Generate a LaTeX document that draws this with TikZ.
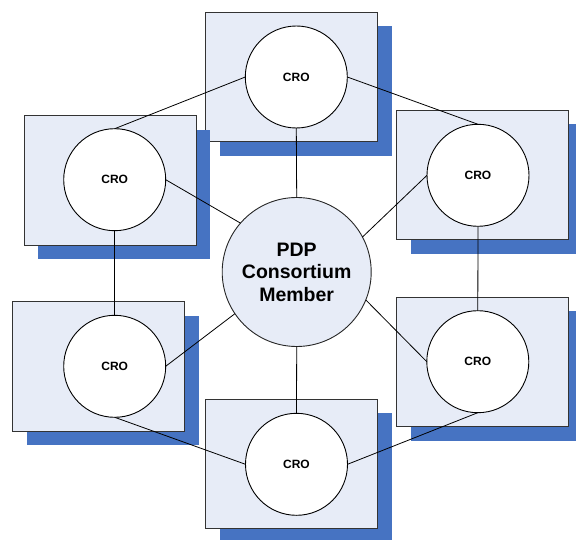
\documentclass[tikz,border=0pt]{standalone}
\usepackage{fontspec}
\setmainfont{Liberation Sans}
\definecolor{shadowblue}{HTML}{4673C2}
\definecolor{boxfill}{HTML}{E7ECF7}
\tikzset{
  crobox/.style={draw=black!80, fill=boxfill, line width=0.9pt, minimum width=172pt, minimum height=129.5pt, inner sep=0pt, outer sep=0pt},
  shadowbox/.style={fill=shadowblue, minimum width=172pt, minimum height=129.5pt, inner sep=0pt, outer sep=0pt},
  cro/.style={circle, draw=black, fill=white, line width=0.9pt, minimum size=102pt, inner sep=0pt, outer sep=0pt, font=\bfseries\fontsize{12}{14}\selectfont},
  hub/.style={circle, draw=black!85, fill=boxfill, line width=0.9pt, minimum size=149pt, inner sep=0pt, outer sep=0pt, align=center, font=\bfseries\fontsize{19.5}{22.5}\selectfont},
  link/.style={draw=black, line width=0.8pt}
}
\begin{document}
\begin{tikzpicture}[x=1pt,y=-1pt]
\useasboundingbox (0,0) rectangle (576,540);
% boxes with shadows
\node[shadowbox] (sT) at (305.7,91) {};
\node[crobox] (bT) at (291.7,77) {};
\node[shadowbox] (sLT) at (124,194.3) {};
\node[crobox] (bLT) at (110,180.3) {};
\node[shadowbox] (sRT) at (496.5,189.2) {};
\node[crobox] (bRT) at (482.5,175.2) {};
\node[shadowbox] (sLB) at (112.5,380.3) {};
\node[crobox] (bLB) at (98.5,366.3) {};
\node[shadowbox] (sRB) at (496.5,376) {};
\node[crobox] (bRB) at (482.5,362) {};
\node[shadowbox] (sB) at (305.8,477.7) {};
\node[crobox] (bB) at (291.8,463.7) {};
% circles
\node[cro] (cT) at (296.3,77) {CRO};
\node[cro] (cLT) at (114.7,179.7) {CRO};
\node[cro] (cRT) at (478,175.3) {CRO};
\node[cro] (cLB) at (114.7,366.3) {CRO};
\node[cro] (cRB) at (477.8,361.7) {CRO};
\node[cro] (cB) at (296.5,464.3) {CRO};
\node[hub] (hub) at (296.7,272) {PDP\\Consortium\\Member};
% connectors
\draw[link] (hub.north) -- (cT.south);
\draw[link] (hub.south) -- (cB.north);
\draw[link] (hub.139) -- (cLT.east);
\draw[link] (hub.28.5) -- (cRT.west);
\draw[link] (hub.214.5) -- (cLB.east);
\draw[link] (hub.-22) -- (cRB.west);
\draw[link] (cT.west) -- (cLT.north);
\draw[link] (cT.east) -- (cRT.north);
\draw[link] (cLT.south) -- (cLB.north);
\draw[link] (cRT.south) -- (cRB.north);
\draw[link] (cLB.south) -- (cB.west);
\draw[link] (cRB.south) -- (cB.east);
\end{tikzpicture}
\end{document}
